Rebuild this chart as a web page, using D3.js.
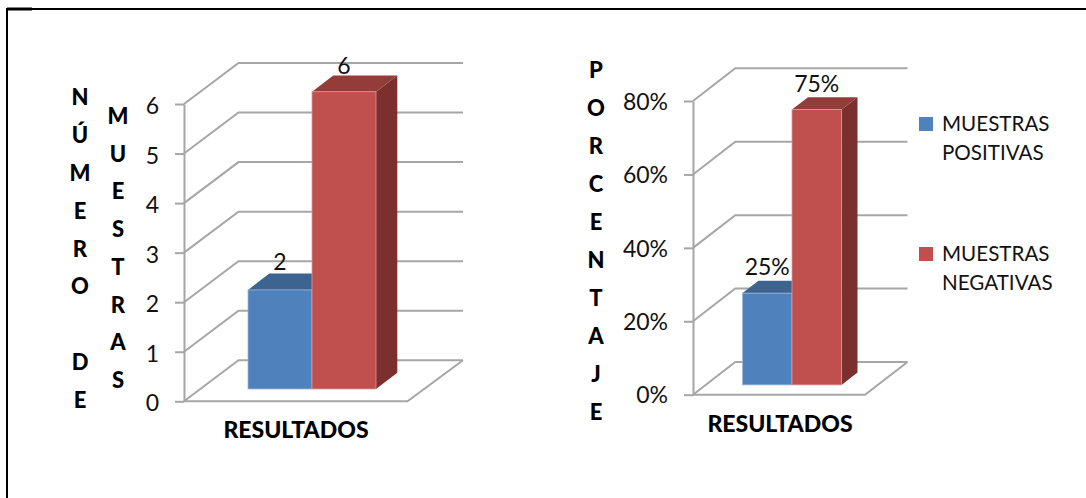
<!DOCTYPE html>
<html>
<head>
<meta charset="utf-8">
<script src="https://cdn.jsdelivr.net/npm/d3@7"></script>
<style>
  html, body { margin: 0; padding: 0; background: #fff; }
  svg { display: block; }
  text { font-family: Lato, "Open Sans", sans-serif; fill: #111; }
  .title { font-weight: 900; fill: #000; }
</style>
</head>
<body>
<svg id="chart" width="1086" height="498"></svg>
<script>
// Data for the two 3-D style column charts
const seriesNames = ["MUESTRAS POSITIVAS", "MUESTRAS NEGATIVAS"];
const legendLines = [["MUESTRAS", "POSITIVAS"], ["MUESTRAS", "NEGATIVAS"]];
const countValues = [2, 6];
const percentValues = [0.25, 0.75];
const countTicks = [0, 1, 2, 3, 4, 5, 6];
const percentTicks = [0, 0.2, 0.4, 0.6, 0.8];
const categoryLabel = "RESULTADOS";
const countTitleColumns = ["NÚMERO DE".split(""), "MUESTRAS".split("")];
const percentTitleColumn = "PORCENTAJE".split("");

const faceColors = ["#4f81bd", "#c0504d"];
const edgeColors = ["#9db9da", "#d99a98"];
const topColors = ["#3d6390", "#933c3a"];
const sideColors = ["#335378", "#7b302e"];
const gridColor = "#a6a6a6";
const gridWidth = 2;

const svg = d3.select("#chart");

// Page frame: left and top rules with a heavier stub in the corner
svg.append("path").attr("d", "M7,498V9H1086").attr("fill", "none").attr("stroke", "#000").attr("stroke-width", 2);
svg.append("path").attr("d", "M7,9H32").attr("fill", "none").attr("stroke", "#000").attr("stroke-width", 3);

function drawChart(cfg) {
  const g = svg.append("g");
  const y = d3.scaleLinear().domain(cfg.domain).range([cfg.y0, cfg.yTop]);
  // Bars occupy the inner part of the floor's depth and width
  const x = d3.scaleBand().domain(seriesNames).range([cfg.barLeft, cfg.barRight]);

  const wall = v => {
    const py = y(v);
    return d3.line()([
      [cfg.x0, py],
      [cfg.x0 + cfg.wallDx, py - cfg.wallDy],
      [cfg.wallRight, py - cfg.wallDy]
    ]);
  };

  // Side-wall and back-wall gridlines
  g.append("g").selectAll("path").data(cfg.ticks).join("path")
    .attr("d", wall)
    .attr("fill", "none")
    .attr("stroke", gridColor)
    .attr("stroke-width", gridWidth);

  // Floor outline
  g.append("path")
    .attr("d", d3.line()([
      [cfg.x0, y(0)],
      [cfg.floorRight, y(0)],
      [cfg.wallRight, y(0) - cfg.wallDy]
    ]))
    .attr("fill", "none")
    .attr("stroke", gridColor)
    .attr("stroke-width", gridWidth);

  // Value axis with ticks
  const axis = d3.axisLeft(y)
    .tickValues(cfg.ticks)
    .tickFormat(cfg.format)
    .tickSizeInner(9)
    .tickSizeOuter(0)
    .tickPadding(cfg.tickPad);
  const axisG = g.append("g").attr("transform", `translate(${cfg.x0},0)`).call(axis);
  axisG.selectAll("path, line").attr("stroke", gridColor).attr("stroke-width", gridWidth);
  axisG.selectAll("text")
    .attr("font-size", cfg.tickFont)
    .attr("dy", cfg.tickDy)
    .style("font-family", "Lato, 'Open Sans', sans-serif")
    .attr("fill", "#111");

  // Bars: side and top faces first, then the front face
  const baseY = v => y(v) - cfg.barLift;
  cfg.values.forEach((v, i) => {
    const name = seriesNames[i];
    const left = x(name), right = left + x.bandwidth();
    const top = baseY(v), bottom = baseY(0);
    g.append("path")
      .attr("d", d3.line()([
        [right, top], [right + cfg.barDx, top - cfg.barDy],
        [right + cfg.barDx, bottom - cfg.barDy], [right, bottom]
      ]) + "Z")
      .attr("fill", sideColors[i]);
    g.append("path")
      .attr("d", d3.line()([
        [left, top], [left + cfg.barDx, top - cfg.barDy],
        [right + cfg.barDx, top - cfg.barDy], [right, top]
      ]) + "Z")
      .attr("fill", topColors[i]);
  });
  cfg.values.forEach((v, i) => {
    const name = seriesNames[i];
    g.append("rect")
      .attr("x", x(name))
      .attr("y", baseY(v))
      .attr("width", x.bandwidth())
      .attr("height", baseY(0) - baseY(v))
      .attr("fill", faceColors[i])
      .attr("stroke", edgeColors[i])
      .attr("stroke-width", 0.8);
  });

  // Value labels above each bar
  cfg.values.forEach((v, i) => {
    g.append("text")
      .attr("x", x(seriesNames[i]) + x.bandwidth() / 2 + cfg.labelDx[i])
      .attr("y", baseY(v) + cfg.labelDy[i])
      .attr("text-anchor", "middle")
      .attr("font-size", cfg.tickFont)
      .text(cfg.format(v));
  });

  // Category title
  g.append("text")
    .attr("class", "title")
    .attr("x", cfg.catX)
    .attr("y", cfg.catY)
    .attr("text-anchor", "middle")
    .attr("font-size", 23)
    .text(categoryLabel);

  // Stacked-letter axis titles
  cfg.columns.forEach(col => {
    const step = d3.scalePoint().domain(d3.range(col.letters.length)).range([col.first, col.last]);
    g.append("g").selectAll("text").data(col.letters).join("text")
      .attr("class", "title")
      .attr("x", col.x)
      .attr("y", (d, i) => step(i))
      .attr("text-anchor", "middle")
      .attr("font-size", 22)
      .text(d => d);
  });
}

drawChart({
  domain: [0, 6], ticks: countTicks, values: countValues, format: d3.format("d"),
  x0: 184, y0: 401.3, yTop: 104, wallDx: 54.5, wallDy: 41, wallRight: 463, floorRight: 407.5,
  barLeft: 248, barRight: 376, barLift: 12.3, barDx: 21.3, barDy: 16.3,
  tickFont: 23, tickPad: 16, tickDy: "0.42em", labelDx: [0, 0], labelDy: [-19.5, -18],
  catX: 296, catY: 438,
  columns: [
    { x: 80, first: 105, last: 408, letters: countTitleColumns[0] },
    { x: 118, first: 124, last: 388, letters: countTitleColumns[1] }
  ]
});

drawChart({
  domain: [0, 0.8], ticks: percentTicks, values: percentValues, format: d3.format(".0%"),
  x0: 693, y0: 394.7, yTop: 101, wallDx: 42.3, wallDy: 32.7, wallRight: 907.5, floorRight: 865,
  barLeft: 742.5, barRight: 841.5, barLift: 9.8, barDx: 16, barDy: 12.3,
  tickFont: 23, tickPad: 16, tickDy: "0.36em", labelDx: [0, 0], labelDy: [-18, -18],
  catX: 780, catY: 432,
  columns: [
    { x: 596, first: 78, last: 420, letters: percentTitleColumn }
  ]
});

// Legend
const legendY = d3.scalePoint().domain(seriesNames).range([117, 247]);
seriesNames.forEach((name, i) => {
  const top = legendY(name);
  svg.append("rect").attr("x", 919).attr("y", top).attr("width", 14).attr("height", 14).attr("fill", faceColors[i]);
  legendLines[i].forEach((line, j) => {
    svg.append("text")
      .attr("x", 942).attr("y", top + 13.5 + j * 29)
      .attr("font-size", 20.6)
      .text(line);
  });
});
</script>
</body>
</html>
